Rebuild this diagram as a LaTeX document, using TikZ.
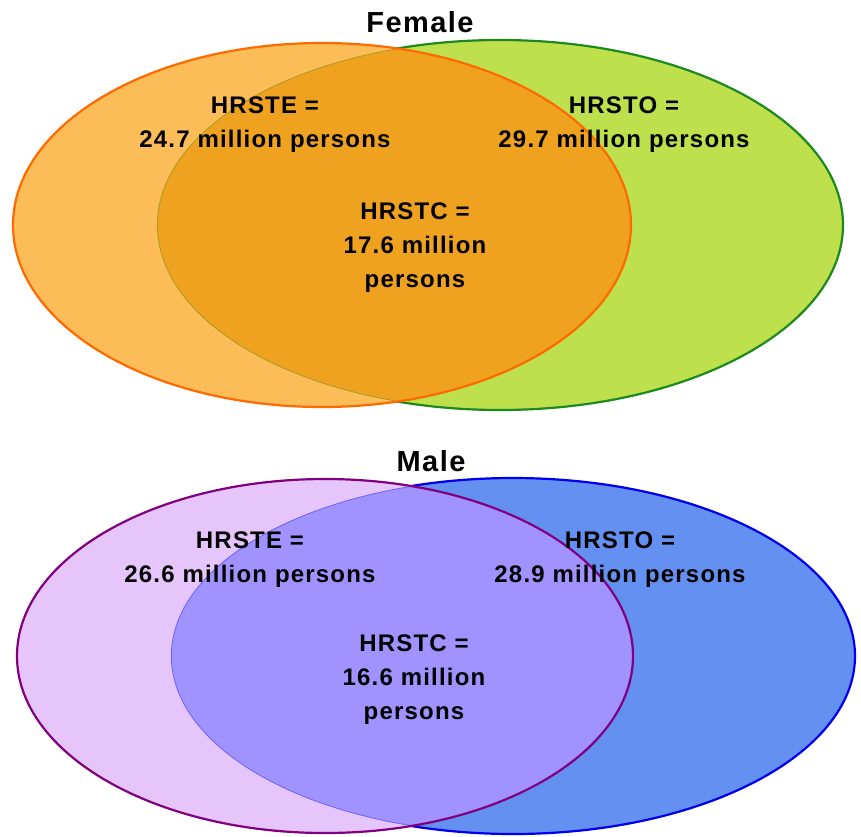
\documentclass[tikz,border=0pt]{standalone}
\usepackage{fontspec}
\setmainfont{Liberation Sans}[LetterSpace=5]
\definecolor{orOnly}{HTML}{FCBC58}
\definecolor{orOver}{HTML}{EFA220}
\definecolor{grOnly}{HTML}{BEE04C}
\definecolor{orLine}{HTML}{FF6A00}
\definecolor{grLine}{HTML}{1E8A1E}
\definecolor{puOnly}{HTML}{E6C6FA}
\definecolor{puOver}{HTML}{A092FF}
\definecolor{blOnly}{HTML}{6490F2}
\definecolor{puLine}{HTML}{800080}
\definecolor{blLine}{HTML}{0000F0}
\tikzset{
  lbl/.style={font=\bfseries\fontsize{24}{34}\selectfont, align=center, inner sep=0pt, text=black},
  ttl/.style={font=\bfseries\fontsize{29}{34}\selectfont, inner sep=0pt, text=black},
  edge/.style={line width=2.2pt}
}
\begin{document}
\begin{tikzpicture}[x=1pt,y=-1pt]
\useasboundingbox (0,0) rectangle (861,836);
% ---------- Female ----------
\fill[grOnly] (500,225) ellipse [x radius=343, y radius=185];
\draw[edge, grLine] (500,225) ellipse [x radius=343, y radius=185];
\fill[orOnly] (322,225) ellipse [x radius=309, y radius=182];
\begin{scope}
  \clip (500,225) ellipse [x radius=343, y radius=185];
  \fill[orOver] (322,225) ellipse [x radius=309, y radius=182];
  \draw[line width=1.5pt, grLine, opacity=0.35] (500,225) ellipse [x radius=343, y radius=185];
\end{scope}
\draw[edge, orLine] (322,225) ellipse [x radius=309, y radius=182];
\node[ttl] (ftitle) at (420,22) {Female};
\node[lbl] (fe) at (265,125) {HRSTE =\\24.7 million persons};
\node[lbl] (fo) at (624,125) {HRSTO =\\29.7 million persons};
\node[lbl] (fc) at (415,248) {HRSTC =\\17.6 million\\persons};
% ---------- Male ----------
\fill[blOnly] (513,656) ellipse [x radius=342, y radius=178];
\draw[edge, blLine] (513,656) ellipse [x radius=342, y radius=178];
\fill[puOnly] (325,656) ellipse [x radius=308, y radius=177];
\begin{scope}
  \clip (513,656) ellipse [x radius=342, y radius=178];
  \fill[puOver] (325,656) ellipse [x radius=308, y radius=177];
  \draw[line width=1.5pt, blLine, opacity=0.35] (513,656) ellipse [x radius=342, y radius=178];
\end{scope}
\draw[edge, puLine] (325,656) ellipse [x radius=308, y radius=177];
\node[ttl] (mtitle) at (431,461) {Male};
\node[lbl] (me) at (250,560) {HRSTE =\\26.6 million persons};
\node[lbl] (mo) at (620,560) {HRSTO =\\28.9 million persons};
\node[lbl] (mc) at (414,680) {HRSTC =\\16.6 million\\persons};
\end{tikzpicture}
\end{document}
